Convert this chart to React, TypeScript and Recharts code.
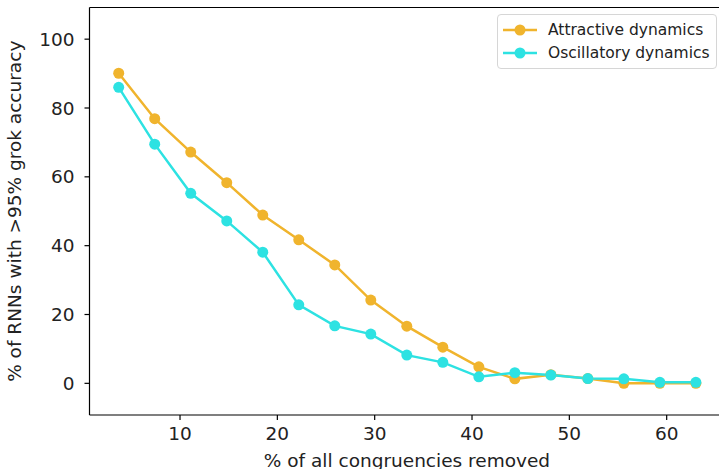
import React from 'react';
import { LineChart, Line, XAxis, YAxis, ReferenceLine, Legend } from 'recharts';

const removedPct = [3.7, 7.4, 11.1, 14.8, 18.5, 22.2, 25.9, 29.6, 33.3, 37.0, 40.7, 44.4, 48.1, 51.9, 55.6, 59.3, 63.0];
const attractive = [90.1, 76.9, 67.2, 58.3, 48.9, 41.7, 34.4, 24.2, 16.6, 10.5, 4.8, 1.3, 2.5, 1.4, 0, 0, 0];
const oscillatory = [86.0, 69.5, 55.2, 47.2, 38.1, 22.8, 16.7, 14.3, 8.2, 6.1, 1.9, 3.1, 2.4, 1.4, 1.3, 0.3, 0.3];
const xTicks = [10, 20, 30, 40, 50, 60];
const yTicks = [0, 20, 40, 60, 80, 100];
const seriesNames = ['Attractive dynamics', 'Oscillatory dynamics'];

const ORANGE = '#F0B42D';
const CYAN = '#2DE2E2';
const FONT = 'DejaVu Sans, sans-serif';
const TXT = '#222';

const data = removedPct.map((x, i) => ({ x, a: attractive[i], o: oscillatory[i] }));

const X_DOMAIN: [number, number] = [0.7, 65.93];
const Y_DOMAIN: [number, number] = [-9.2, 109.2];

const renderLegend = () => {
  const items = [
    { name: seriesNames[0], color: ORANGE },
    { name: seriesNames[1], color: CYAN },
  ];
  return (
    <div
      style={{
        boxSizing: 'border-box',
        width: 220,
        height: 55,
        border: '1px solid #d6d6d6',
        borderRadius: 4,
        background: 'rgba(255,255,255,0.8)',
        padding: '3px 0 0 5px',
        fontFamily: FONT,
        fontSize: 15.5,
        color: TXT,
        whiteSpace: 'nowrap',
      }}
    >
      {items.map((it) => (
        <div key={it.name} style={{ display: 'flex', alignItems: 'center', height: 23 }}>
          <svg width={34} height={14} style={{ marginRight: 11, flex: 'none' }}>
            <line x1={0} y1={7} x2={34} y2={7} stroke={it.color} strokeWidth={2.5} />
            <circle cx={17} cy={7} r={5.5} fill={it.color} />
          </svg>
          <span>{it.name}</span>
        </div>
      ))}
    </div>
  );
};

export default function App() {
  return (
    <div style={{ position: 'absolute', left: 0, top: 0, width: 719, height: 469, overflow: 'hidden', background: '#fff' }}>
      <LineChart
        width={740}
        height={469}
        data={data}
        margin={{ top: 7.5, right: 15.6, bottom: 0, left: 0 }}
      >
        <XAxis
          dataKey="x"
          type="number"
          domain={X_DOMAIN}
          ticks={xTicks}
          allowDataOverflow
          height={54}
          tickSize={5}
          tickMargin={7}
          axisLine={{ stroke: '#000', strokeWidth: 1.2 }}
          tickLine={{ stroke: '#000', strokeWidth: 1.2 }}
          tick={{ fill: TXT, fontSize: 18.5, fontFamily: FONT }}
          label={{ value: '% of all congruencies removed', position: 'insideBottom', offset: 2, fill: TXT, fontSize: 18.5, fontFamily: FONT }}
        />
        <YAxis
          type="number"
          domain={Y_DOMAIN}
          ticks={yTicks}
          allowDataOverflow
          width={89.5}
          tickSize={5}
          tickMargin={10}
          axisLine={{ stroke: '#000', strokeWidth: 1.2 }}
          tickLine={{ stroke: '#000', strokeWidth: 1.2 }}
          tick={{ fill: TXT, fontSize: 18.5, fontFamily: FONT }}
          label={{ value: '% of RNNs with >95% grok accuracy', angle: -90, position: 'insideLeft', offset: 14, fill: TXT, fontSize: 18.5, fontFamily: FONT, style: { textAnchor: 'middle' } }}
        />
        <ReferenceLine y={Y_DOMAIN[1]} stroke="#000" strokeWidth={1.2} />
        <ReferenceLine x={X_DOMAIN[1]} stroke="#000" strokeWidth={1.2} />
        <Line dataKey="a" name={seriesNames[0]} stroke={ORANGE} strokeWidth={2.5} dot={{ r: 5.5, fill: ORANGE, stroke: ORANGE, strokeWidth: 0 }} isAnimationActive={false} />
        <Line dataKey="o" name={seriesNames[1]} stroke={CYAN} strokeWidth={2.5} dot={{ r: 5.5, fill: CYAN, stroke: CYAN, strokeWidth: 0 }} isAnimationActive={false} />
        <Legend
          layout="vertical"
          align="center"
          verticalAlign="middle"
          content={renderLegend}
          wrapperStyle={{ left: 497, top: 14, width: 220, height: 55 }}
        />
      </LineChart>
    </div>
  );
}
